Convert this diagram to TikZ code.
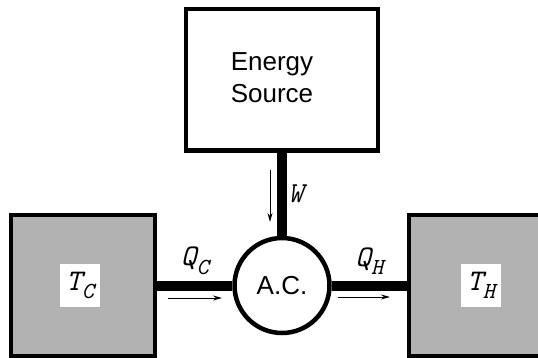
\documentclass[tikz,border=0pt]{standalone}
\usepackage{fontspec}
\setmainfont{Liberation Sans}
\usetikzlibrary{positioning, arrows.meta}
\definecolor{reservoir}{gray}{0.7}
\newcommand{\heatlabel}[2]{{\fontsize{30}{30}\selectfont\ttfamily\itshape #1\raisebox{-0.28em}{\fontsize{23}{23}\selectfont #2}}}

\begin{document}
\begin{tikzpicture}[
        x=1pt, y=-1pt,
        font=\fontsize{26}{32}\selectfont,
        box/.style={rectangle, draw, line width=4.5pt, minimum width=144pt, minimum height=141pt},
        tag/.style={fill=white, inner sep=0pt, minimum width=40pt, minimum height=43pt},
        pipe/.style={line width=10pt},
        flow/.style={line width=1pt, -{Stealth[length=9pt, width=5pt]}}
    ]
    \clip (0,0) rectangle (538,358);

    \node[circle, draw, fill=white, line width=4.5pt, minimum size=95pt, inner sep=0pt] (ac) at (282,285.5) {A.C.};
    \node[box, fill=white, minimum width=192pt, minimum height=141.5pt, above=83pt of ac] (source) {};
    \node[align=center] (sourcetext) at ([shift={(-10pt,2pt)}]source.center) {Energy\\Source};

    \node[box, fill=reservoir, left=75pt of ac] (cold) {};
    \node[box, fill=reservoir, right=75pt of ac] (hot) {};
    \node[tag] (tc) at ([xshift=-3pt]cold.center) {\heatlabel{T}{C}};
    \node[tag] (th) at (hot.center) {\heatlabel{T}{H}};

    \draw[pipe] (source) -- node[right=1pt, inner sep=0pt] (w) {\ttfamily\itshape\fontsize{29}{29}\selectfont W} (ac);
    \draw[pipe] (cold) -- node[above=6pt, inner sep=0pt] (qc) {\heatlabel{Q}{C}} (ac);
    \draw[pipe] (ac) -- node[above=6pt, inner sep=0pt] (qh) {\heatlabel{Q}{H}} (hot);

    % flow directions
    \coordinate (win) at (270,170);
    \coordinate (wout) at (270,222);
    \coordinate (qcin) at (168,298);
    \coordinate (qcout) at (222,298);
    \coordinate (qhin) at (338,297);
    \coordinate (qhout) at (390,297);
    \draw[flow] (win) -- (wout);
    \draw[flow] (qcin) -- (qcout);
    \draw[flow] (qhin) -- (qhout);
\end{tikzpicture}
\end{document}
